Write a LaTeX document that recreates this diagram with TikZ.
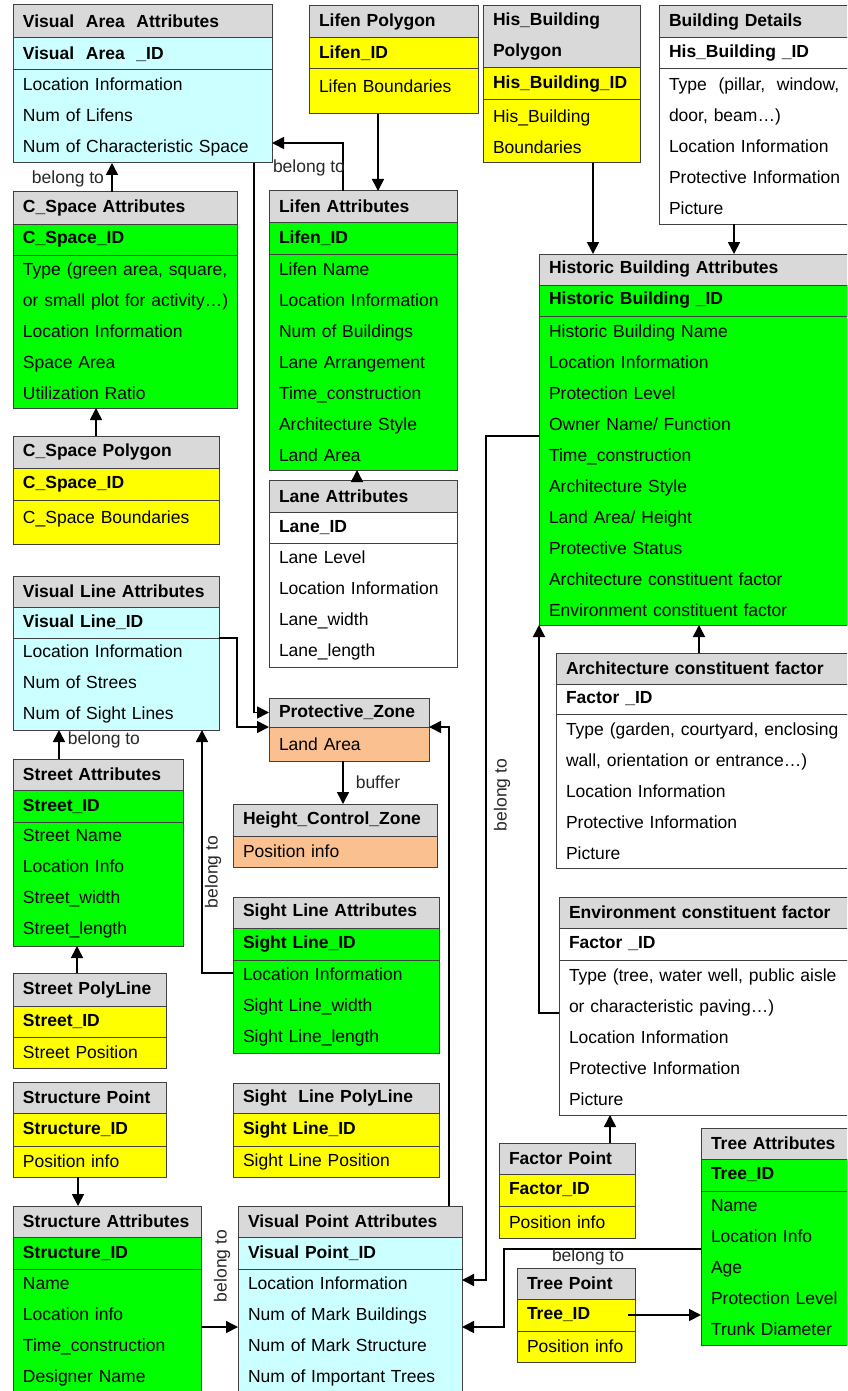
\documentclass[tikz,border=0pt]{standalone}
\usepackage{fontspec}
\setmainfont{Liberation Sans}
\usetikzlibrary{arrows.meta,calc}

\tikzset{every picture/.style={line width=1pt}}
\tikzset{
  tblcell/.style={draw={rgb, 255:red, 64; green, 64; blue, 64}, anchor=north west, outer sep=0pt, inner xsep=10pt, inner ysep=0pt, align=left, font=\fontsize{17.5}{31}\selectfont},
  tblhead/.style={tblcell, fill={rgb, 255:red, 217; green, 217; blue, 217}, font=\bfseries\fontsize{17.5}{31}\selectfont},
  tblkey/.style={tblcell, font=\bfseries\fontsize{17.5}{31}\selectfont},
  cyanfill/.style={fill={rgb, 255:red, 204; green, 255; blue, 255}},
  greenfill/.style={fill={rgb, 255:red, 0; green, 255; blue, 0}},
  yellowfill/.style={fill={rgb, 255:red, 255; green, 255; blue, 0}},
  peachfill/.style={fill={rgb, 255:red, 250; green, 192; blue, 144}},
  whitefill/.style={fill=white},
  conn/.style={line width=1.6pt, -{Triangle[length=12pt,width=12pt]}},
  lbl/.style={inner sep=0pt, font=\fontsize{17.5}{21}\selectfont, text={rgb, 255:red, 40; green, 40; blue, 40}},
}

\begin{document}
\begin{tikzpicture}[x=1pt,y=1pt,yscale=-1,xscale=1]
%set diagram frame: 847 x 1391
\useasboundingbox (0,0) rectangle (847,1391);
\clip (0,0) rectangle (847,1391);
\fill [white] (0,0) rectangle (847,1391);

%Table: Visual Area Attributes
\node [tblhead, text width=239pt, minimum height=33pt] (VisArea-h) at (13,5) {Visual\ \ Area\ \ Attributes};
\node [tblkey, cyanfill, text width=239pt, minimum height=32pt] (VisArea-id) at (VisArea-h.south west) {Visual\ \ Area\ \ \_ID};
\node [tblcell, cyanfill, text width=239pt, minimum height=93pt] (VisArea-b) at (VisArea-id.south west) {Location Information\\Num of Lifens\\Num of Characteristic Space};

%Table: Lifen Polygon
\node [tblhead, text width=149pt, minimum height=32pt] (LifenP-h) at (309,6) {Lifen Polygon};
\node [tblkey, yellowfill, text width=149pt, minimum height=31pt] (LifenP-id) at (LifenP-h.south west) {Lifen\_ID};
\node [tblcell, yellowfill, text width=149pt, minimum height=45pt, text depth=10pt] (LifenP-b) at (LifenP-id.south west) {Lifen Boundaries};

%Table: His_Building Polygon
\node [tblhead, text width=137pt, minimum height=62pt] (HisP-h) at (483,6) {His\_Building\\Polygon};
\node [tblkey, yellowfill, text width=137pt, minimum height=32pt] (HisP-id) at (HisP-h.south west) {His\_Building\_ID};
\node [tblcell, yellowfill, text width=137pt, minimum height=63pt] (HisP-b) at (HisP-id.south west) {His\_Building\\Boundaries};

%Table: Building Details
\node [tblhead, text width=180pt, minimum height=32pt] (BldD-h) at (659,6) {Building Details};
\node [tblkey, whitefill, text width=180pt, minimum height=31pt] (BldD-id) at (BldD-h.south west) {His\_Building \_ID};
\node [tblcell, whitefill, text width=180pt, minimum height=155pt] (BldD-b) at (BldD-id.south west) {Type\ \ (pillar,\ \ window,\\door, beam…)\\Location Information\\Protective Information\\Picture};

%Table: Historic Building Attributes
\node [tblhead, text width=300pt, minimum height=31pt] (HisA-h) at (539,254) {Historic Building Attributes};
\node [tblkey, greenfill, text width=300pt, minimum height=31pt] (HisA-id) at (HisA-h.south west) {Historic Building \_ID};
\node [tblcell, greenfill, text width=300pt, minimum height=309pt] (HisA-b) at (HisA-id.south west) {Historic Building Name\\Location Information\\Protection Level\\Owner Name/ Function\\Time\_construction\\Architecture Style\\Land Area/ Height\\Protective Status\\Architecture constituent factor\\Environment constituent factor};

%Table: C_Space Attributes
\node [tblhead, text width=204pt, minimum height=32pt] (CSpace-h) at (13,192) {C\_Space Attributes};
\node [tblkey, greenfill, text width=204pt, minimum height=31pt] (CSpace-id) at (CSpace-h.south west) {C\_Space\_ID};
\node [tblcell, greenfill, text width=204pt, minimum height=153pt] (CSpace-b) at (CSpace-id.south west) {\mbox{Type (green area, square,}\\\mbox{or small plot for activity…)}\\Location Information\\Space Area\\Utilization Ratio};

%Table: C_Space Polygon
\node [tblhead, text width=186pt, minimum height=32pt] (CSpaceP-h) at (13,436) {C\_Space Polygon};
\node [tblkey, yellowfill, text width=186pt, minimum height=32pt] (CSpaceP-id) at (CSpaceP-h.south west) {C\_Space\_ID};
\node [tblcell, yellowfill, text width=186pt, minimum height=44pt, text depth=10pt] (CSpaceP-b) at (CSpaceP-id.south west) {C\_Space Boundaries};

%Table: Lifen Attributes
\node [tblhead, text width=168pt, minimum height=31pt] (LifenA-h) at (269,191) {Lifen Attributes};
\node [tblkey, greenfill, text width=168pt, minimum height=32pt] (LifenA-id) at (LifenA-h.south west) {Lifen\_ID};
\node [tblcell, greenfill, text width=168pt, minimum height=216pt] (LifenA-b) at (LifenA-id.south west) {Lifen Name\\Location Information\\Num of Buildings\\Lane Arrangement\\Time\_construction\\Architecture Style\\Land Area};

%Table: Lane Attributes
\node [tblhead, text width=168pt, minimum height=32pt] (Lane-h) at (269,480) {Lane Attributes};
\node [tblkey, whitefill, text width=168pt, minimum height=31pt] (Lane-id) at (Lane-h.south west) {Lane\_ID};
\node [tblcell, whitefill, text width=168pt, minimum height=124pt] (Lane-b) at (Lane-id.south west) {Lane Level\\Location Information\\Lane\_width\\Lane\_length};

%Table: Visual Line Attributes
\node [tblhead, text width=186pt, minimum height=31pt] (VisLine-h) at (13,576) {Visual Line Attributes};
\node [tblkey, cyanfill, text width=186pt, minimum height=31pt] (VisLine-id) at (VisLine-h.south west) {Visual Line\_ID};
\node [tblcell, cyanfill, text width=186pt, minimum height=92pt] (VisLine-b) at (VisLine-id.south west) {Location Information\\Num of Strees\\Num of Sight Lines};

%Table: Protective_Zone
\node [tblhead, text width=140pt, minimum height=29pt] (ProtZ-h) at (269,698) {Protective\_Zone};
\node [tblcell, peachfill, text width=140pt, minimum height=34pt] (ProtZ-b) at (ProtZ-h.south west) {Land Area};

%Table: Height_Control_Zone
\node [tblhead, text width=184pt, minimum height=32pt] (HCZ-h) at (233,804) {Height\_Control\_Zone};
\node [tblcell, peachfill, text width=184pt, minimum height=31pt] (HCZ-b) at (HCZ-h.south west) {Position info};

%Table: Sight Line Attributes
\node [tblhead, text width=186pt, minimum height=31pt] (SightA-h) at (233,897) {Sight Line Attributes};
\node [tblkey, greenfill, text width=186pt, minimum height=32pt] (SightA-id) at (SightA-h.south west) {Sight Line\_ID};
\node [tblcell, greenfill, text width=186pt, minimum height=93pt] (SightA-b) at (SightA-id.south west) {Location Information\\Sight Line\_width\\Sight Line\_length};

%Table: Street Attributes
\node [tblhead, text width=150pt, minimum height=31pt] (StreetA-h) at (13,759) {Street Attributes};
\node [tblkey, greenfill, text width=150pt, minimum height=32pt] (StreetA-id) at (StreetA-h.south west) {Street\_ID};
\node [tblcell, greenfill, text width=150pt, minimum height=124pt] (StreetA-b) at (StreetA-id.south west) {Street Name\\Location Info\\Street\_width\\Street\_length};

%Table: Street PolyLine
\node [tblhead, text width=133pt, minimum height=33pt] (StreetP-h) at (13,973) {Street PolyLine};
\node [tblkey, yellowfill, text width=133pt, minimum height=31pt] (StreetP-id) at (StreetP-h.south west) {Street\_ID};
\node [tblcell, yellowfill, text width=133pt, minimum height=31pt] (StreetP-b) at (StreetP-id.south west) {Street Position};

%Table: Structure Point
\node [tblhead, text width=133pt, minimum height=31pt] (StructP-h) at (13,1082) {Structure Point};
\node [tblkey, yellowfill, text width=133pt, minimum height=33pt] (StructP-id) at (StructP-h.south west) {Structure\_ID};
\node [tblcell, yellowfill, text width=133pt, minimum height=31pt] (StructP-b) at (StructP-id.south west) {Position info};

%Table: Structure Attributes
\node [tblhead, text width=168pt, minimum height=31pt] (StructA-h) at (13,1206) {Structure Attributes};
\node [tblkey, greenfill, text width=168pt, minimum height=32pt] (StructA-id) at (StructA-h.south west) {Structure\_ID};
\node [tblcell, greenfill, text width=168pt, minimum height=125pt] (StructA-b) at (StructA-id.south west) {Name\\Location info\\Time\_construction\\Designer Name};

%Table: Sight Line PolyLine
\node [tblhead, text width=186pt, minimum height=30pt] (SightP-h) at (233,1083) {Sight\ \ Line PolyLine};
\node [tblkey, yellowfill, text width=186pt, minimum height=33pt] (SightP-id) at (SightP-h.south west) {Sight Line\_ID};
\node [tblcell, yellowfill, text width=186pt, minimum height=31pt] (SightP-b) at (SightP-id.south west) {Sight Line Position};

%Table: Visual Point Attributes
\node [tblhead, text width=204pt, minimum height=31pt] (VPA-h) at (238,1206) {Visual Point Attributes};
\node [tblkey, cyanfill, text width=204pt, minimum height=32pt] (VPA-id) at (VPA-h.south west) {Visual Point\_ID};
\node [tblcell, cyanfill, text width=204pt, minimum height=125pt] (VPA-b) at (VPA-id.south west) {Location Information\\Num of Mark Buildings\\Num of Mark Structure\\Num of Important Trees};

%Table: Architecture constituent factor
\node [tblhead, text width=283pt, minimum height=31pt] (ArchF-h) at (556,653) {Architecture constituent factor};
\node [tblkey, whitefill, text width=283pt, minimum height=30pt] (ArchF-id) at (ArchF-h.south west) {Factor \_ID};
\node [tblcell, whitefill, text width=283pt, minimum height=154pt] (ArchF-b) at (ArchF-id.south west) {Type (garden, courtyard, enclosing\\wall, orientation or entrance…)\\Location Information\\Protective Information\\Picture};

%Table: Environment constituent factor
\node [tblhead, text width=280pt, minimum height=31pt] (EnvF-h) at (559,897) {Environment constituent factor};
\node [tblkey, whitefill, text width=280pt, minimum height=32pt] (EnvF-id) at (EnvF-h.south west) {Factor \_ID};
\node [tblcell, whitefill, text width=280pt, minimum height=155pt] (EnvF-b) at (EnvF-id.south west) {Type (tree, water well, public aisle\\or characteristic paving…)\\Location Information\\Protective Information\\Picture};

%Table: Factor Point
\node [tblhead, text width=116pt, minimum height=31pt] (FactorP-h) at (499,1143) {Factor Point};
\node [tblkey, yellowfill, text width=116pt, minimum height=32pt] (FactorP-id) at (FactorP-h.south west) {Factor\_ID};
\node [tblcell, yellowfill, text width=116pt, minimum height=32pt] (FactorP-b) at (FactorP-id.south west) {Position info};

%Table: Tree Point
\node [tblhead, text width=98pt, minimum height=31pt] (TreeP-h) at (517,1268) {Tree Point};
\node [tblkey, yellowfill, text width=98pt, minimum height=32pt] (TreeP-id) at (TreeP-h.south west) {Tree\_ID};
\node [tblcell, yellowfill, text width=98pt, minimum height=31pt] (TreeP-b) at (TreeP-id.south west) {Position info};

%Table: Tree Attributes
\node [tblhead, text width=138pt, minimum height=31pt] (TreeA-h) at (701,1128) {Tree Attributes};
\node [tblkey, greenfill, text width=138pt, minimum height=32pt] (TreeA-id) at (TreeA-h.south west) {Tree\_ID};
\node [tblcell, greenfill, text width=138pt, minimum height=154pt] (TreeA-b) at (TreeA-id.south west) {Name\\Location Info\\Age\\Protection Level\\Trunk Diameter};

%Straight Lines
\draw [conn] ([xshift=99pt]CSpace-h.north west) -- ([xshift=99pt]VisArea-b.south west);
\draw [conn] ([xshift=83pt]CSpaceP-h.north west) -- ([xshift=83pt]CSpace-b.south west);
\draw [conn] ([xshift=69pt]LifenP-b.south west) -- ([xshift=109pt]LifenA-h.north west);
\draw [conn] ([xshift=74pt]LifenA-h.north west) |- ($(VisArea-b.south east)!0.215!(VisArea-b.north east)$);
\draw [conn] ([xshift=88pt]Lane-h.north west) -- ([xshift=88pt]LifenA-b.south west);
\draw [conn] ([xshift=241pt]VisArea-b.south west) |- (ProtZ-h.west);
\draw [conn] (VisLine-id.south east) -- ++(18,0) |- (ProtZ-h.south west);
\draw [conn] ([xshift=211pt]VPA-h.north west) |- (ProtZ-h.south east);
\draw [conn] ([xshift=74pt]ProtZ-b.south west) -- ([xshift=110pt]HCZ-h.north west);
\draw [conn] ($(SightA-b.north west)!0.14!(SightA-b.south west)$) -| ([xshift=189pt]VisLine-b.south west);
\draw [conn] ([xshift=46pt]StreetA-h.north west) -- ([xshift=46pt]VisLine-b.south west);
\draw [conn] ([xshift=64pt]StreetP-h.north west) -- ([xshift=64pt]StreetA-b.south west);
\draw [conn] ([xshift=65pt]StructP-b.south west) -- ([xshift=65pt]StructA-h.north west);
\draw [conn] ($(StructA-b.north east)!0.464!(StructA-b.south east)$) -- ($(VPA-b.north west)!0.464!(VPA-b.south west)$);
\draw [conn] ($(HisA-b.north west)!0.388!(HisA-b.south west)$) -- ++(-53,0) |- ($(VPA-b.north east)!0.088!(VPA-b.south east)$);
\draw [conn] ($(EnvF-b.north west)!0.342!(EnvF-b.south west)$) -| (HisA-b.south west);
\draw [conn] ([xshift=143pt]ArchF-h.north west) -- ([xshift=160pt]HisA-b.south west);
\draw [conn] ([xshift=110pt]HisP-b.south west) -- ([xshift=54pt]HisA-h.north west);
\draw [conn] ([xshift=75pt]BldD-b.south west) -- ([xshift=195pt]HisA-h.north west);
\draw [conn] ([xshift=111pt]FactorP-h.north west) -- ([xshift=51pt]EnvF-b.south west);
\draw [conn] ($(TreeA-b.north west)!0.377!(TreeA-b.south west)$) -- ++(-197,0) |- ($(VPA-b.north east)!0.464!(VPA-b.south east)$);
\draw [conn] ([xshift=-7pt]TreeP-id.east) -- (TreeP-id.east -| TreeA-b.west);

% Text Node
\node [lbl] (lbCSpace) at (68,179) {belong to};
% Text Node
\node [lbl] (lbLifen) at (309,168) {belong to};
% Text Node
\node [lbl] (lbStreet) at (104,740) {belong to};
% Text Node
\node [lbl, rotate=90] (lbSight) at (213,872) {belong to};
% Text Node
\node [lbl, rotate=90] (lbHis) at (502,795) {belong to};
% Text Node
\node [lbl, rotate=90] (lbStruct) at (222,1266) {belong to};
% Text Node
\node [lbl] (lbTree) at (588,1257) {belong to};
% Text Node
\node [lbl] (lbBuffer) at (378,782) {buffer};

\end{tikzpicture}
\end{document}
